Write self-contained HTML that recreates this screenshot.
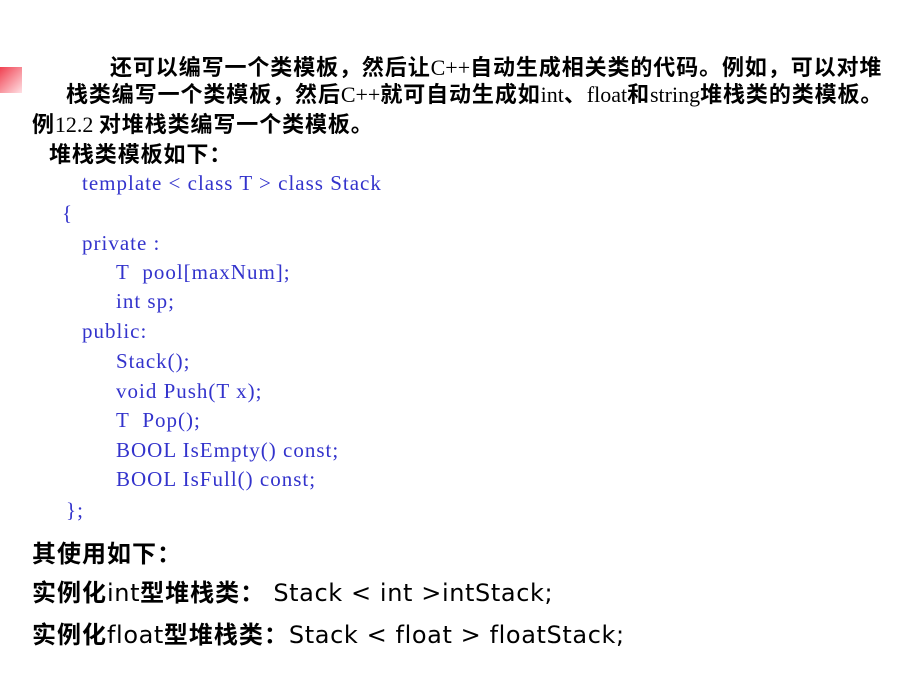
<!DOCTYPE html>
<html><head><meta charset="utf-8"><style>
body{margin:0;width:900px;height:675px;background:#fff;position:relative;overflow:hidden}
.t{position:absolute;white-space:nowrap;line-height:1}
.h{font-family:"Liberation Serif","Noto Sans CJK SC",serif;font-size:22px;font-weight:bold;color:#000;letter-spacing:0.9px}
.h span{font-weight:normal;letter-spacing:0}
.c{font-family:"Liberation Serif",serif;font-size:21px;color:#3333cc;letter-spacing:1px}
.b{font-family:"DejaVu Sans","Noto Sans CJK SC",sans-serif;font-size:24px;color:#000;letter-spacing:0.6px}
.b b{font-family:"Noto Sans CJK SC",sans-serif;font-size:24px;letter-spacing:1px}
</style></head><body>
<div style="position:absolute;left:0;top:67px;width:22px;height:26px;background:linear-gradient(135deg,#f04050,#ffe0e4)"></div>
<div class="t h" style="left:110px;top:57px">还可以编写一个类模板，然后让<span>C++</span>自动生成相关类的代码。例如，可以对堆</div>
<div class="t h" style="left:66px;top:84px">栈类编写一个类模板，然后<span>C++</span>就可自动生成如<span>int</span>、<span>float</span>和<span>string</span>堆栈类的类模板。</div>
<div class="t h" style="left:32px;top:114px">例<span>12.2 </span>对堆栈类编写一个类模板。</div>
<div class="t h" style="left:49px;top:144px">堆栈类模板如下：</div>
<div class="t c" style="left:82px;top:173px">template &lt; class T &gt; class Stack</div>
<div class="t c" style="left:62px;top:203px">{</div>
<div class="t c" style="left:82px;top:233px">private :</div>
<div class="t c" style="left:116px;top:262px">T&nbsp; pool[maxNum];</div>
<div class="t c" style="left:116px;top:291px">int sp;</div>
<div class="t c" style="left:82px;top:321px">public:</div>
<div class="t c" style="left:116px;top:351px">Stack();</div>
<div class="t c" style="left:116px;top:381px">void Push(T x);</div>
<div class="t c" style="left:116px;top:410px">T&nbsp; Pop();</div>
<div class="t c" style="left:116px;top:440px">BOOL IsEmpty() const;</div>
<div class="t c" style="left:116px;top:469px">BOOL IsFull() const;</div>
<div class="t c" style="left:66px;top:500px">};</div>
<div class="t b" style="left:32px;top:540px"><b>其使用如下：</b></div>
<div class="t b" style="left:32px;top:579px"><b>实例化</b>int<b>型堆栈类：</b> Stack &lt; int &gt;intStack;</div>
<div class="t b" style="left:32px;top:621px"><b>实例化</b>float<b>型堆栈类：</b>Stack &lt; float &gt; floatStack;</div>
</body></html>
